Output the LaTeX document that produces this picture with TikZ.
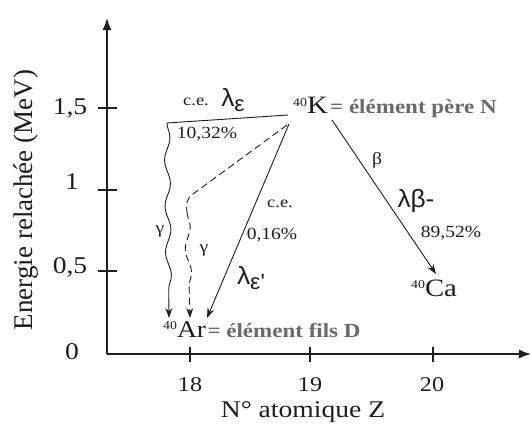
\documentclass[tikz,border=0pt]{standalone}
\usepackage{fontspec}
\setmainfont{Liberation Serif}[FakeStretch=1.15]
\newfontfamily\plainserif{Liberation Serif}
\newfontfamily\symfont{Liberation Sans}[FakeStretch=1.05]
\usetikzlibrary{arrows.meta,decorations.pathmorphing}
\newcommand\fsz[1]{\fontsize{#1}{#1}\selectfont}
\newcommand\isotope[3]{\raisebox{#3}{\fsz{12}#1}#2}
\definecolor{ink}{HTML}{1E1E1E}
\definecolor{greytext}{HTML}{6A6A6A}
\begin{document}
\begin{tikzpicture}[x=1pt,y=-1pt,
  axisline/.style={line width=1.4pt, draw=ink, -{Latex[length=12pt,width=9pt]}},
  tickline/.style={line width=1.1pt, draw=ink},
  conn/.style={line width=0.9pt, draw=ink, -{Stealth[length=10pt,width=7pt]}},
  plainline/.style={line width=0.9pt, draw=ink},
  wavy/.style={decorate, decoration={snake, amplitude=2.8pt, segment length=46pt, post length=12pt}},
  lbl/.style={inner sep=0pt, text=ink},
  greylbl/.style={inner sep=0pt, text=greytext, font=\fsz{20}\bfseries},
]
\fill[white] (0,0) rectangle (532,423);
\useasboundingbox (0,0) rectangle (532,423);

% axes
\coordinate (O) at (107,354);
\coordinate (ytop) at (107,18);
\coordinate (xend) at (531,354);
\draw[axisline] (O) -- (ytop);
\draw[axisline] (O) -- (xend);

% y ticks
\foreach \yy/\nm in {108/a,190/b,271/c}{
  \coordinate (yt\nm l) at (98,\yy);
  \coordinate (yt\nm r) at (117,\yy);
  \draw[tickline] (yt\nm l) -- (yt\nm r);
}
% x ticks
\foreach \xx/\nm in {190/a,310/b,433/c}{
  \coordinate (xt\nm t) at (\xx,347);
  \coordinate (xt\nm b) at (\xx,362);
  \draw[tickline] (xt\nm t) -- (xt\nm b);
}

% tick labels
\node[lbl, anchor=base, font=\fsz{24}] (y15) at (70,114) {1,5};
\node[lbl, anchor=base, font=\fsz{24}] (y1) at (72,189) {1};
\node[lbl, anchor=base, font=\fsz{24}] (y05) at (70,273) {0,5};
\node[lbl, anchor=base, font=\fsz{24}] (y0) at (72,359) {0};
\node[lbl, anchor=base, font=\fsz{21}] (x18) at (190,391) {18};
\node[lbl, anchor=base, font=\fsz{21}] (x19) at (310,391) {19};
\node[lbl, anchor=base, font=\fsz{21}] (x20) at (432,391) {20};

% axis titles
\node[lbl, anchor=base, font=\fsz{24}] (xlabel) at (303,417) {N° atomique Z};
\node[lbl, anchor=base, rotate=90, font=\plainserif\fsz{27}] (ylabel) at (32,200) {Energie relachée (MeV)};

% nuclei
\node[lbl, anchor=base west, font=\fsz{25}] (K) at (293,113) {\isotope{40}{K}{7pt}};
\node[greylbl, anchor=base west] (Kdesc) at ([xshift=2pt]K.base east) {= élément père N};
\node[lbl, anchor=base west, font=\fsz{24}] (Ar) at (163,337) {\isotope{40}{Ar}{8pt}};
\node[greylbl, anchor=base west] (Ardesc) at ([xshift=1pt]Ar.base east) {= élément fils D};
\node[lbl, anchor=base west, font=\fsz{25}] (Ca) at (411,296) {\isotope{40}{Ca}{8pt}};

% connector end points
\coordinate (kTop) at (288,115);
\coordinate (kLow) at (289,124);
\coordinate (kDash) at (287,125);
\coordinate (kRight) at (332,120);
\coordinate (corner) at (167,123);
\coordinate (dashBend) at (193,194);
\coordinate (dashDown) at (187,212);
\coordinate (arA) at (169,318);
\coordinate (arB) at (190,318);
\coordinate (arC) at (207,318);
\coordinate (caTip) at (436,274);

% beta branch
\draw[conn] (kRight) -- (caTip);
% electron capture 10,32%
\draw[plainline] (kTop) -- (corner);
\draw[conn, wavy] (corner) -- (arA);
% dashed path
\draw[plainline, dash pattern=on 7pt off 4pt] (kDash) -- (dashBend) .. controls (186,199) and (186,205) .. (dashDown);
\draw[conn, dash pattern=on 7pt off 4pt, wavy] (dashDown) -- (arB);
% electron capture 0,16%
\draw[conn] (kLow) -- (arC);

% labels
\node[lbl, font=\fsz{16}] (ce1) at (196,102) {c.e.};
\node[lbl, font=\symfont\fsz{25}] (lam1) at (233,100) {λ\raisebox{-5pt}{\fsz{22}ε}};
\node[lbl, font=\fsz{17}] (p1) at (207,134) {10,32\%};
\node[lbl, font=\fsz{16}] (ce2) at (280,204) {c.e.};
\node[lbl, font=\fsz{17}] (p2) at (272,235) {0,16\%};
\node[lbl, font=\symfont\fsz{25}] (lam2) at (251,278) {λ\raisebox{-5pt}{\fsz{22}ε'}};
\node[lbl, font=\fsz{17}] (g1) at (160,231) {γ};
\node[lbl, font=\fsz{17}] (g2) at (204,250) {γ};
\node[lbl, font=\fsz{17}] (b1) at (377,160) {β};
\node[lbl, font=\symfont\fsz{25}] (lam3) at (416,201) {λβ-};
\node[lbl, font=\fsz{17}] (p3) at (451,233) {89,52\%};
\end{tikzpicture}
\end{document}
